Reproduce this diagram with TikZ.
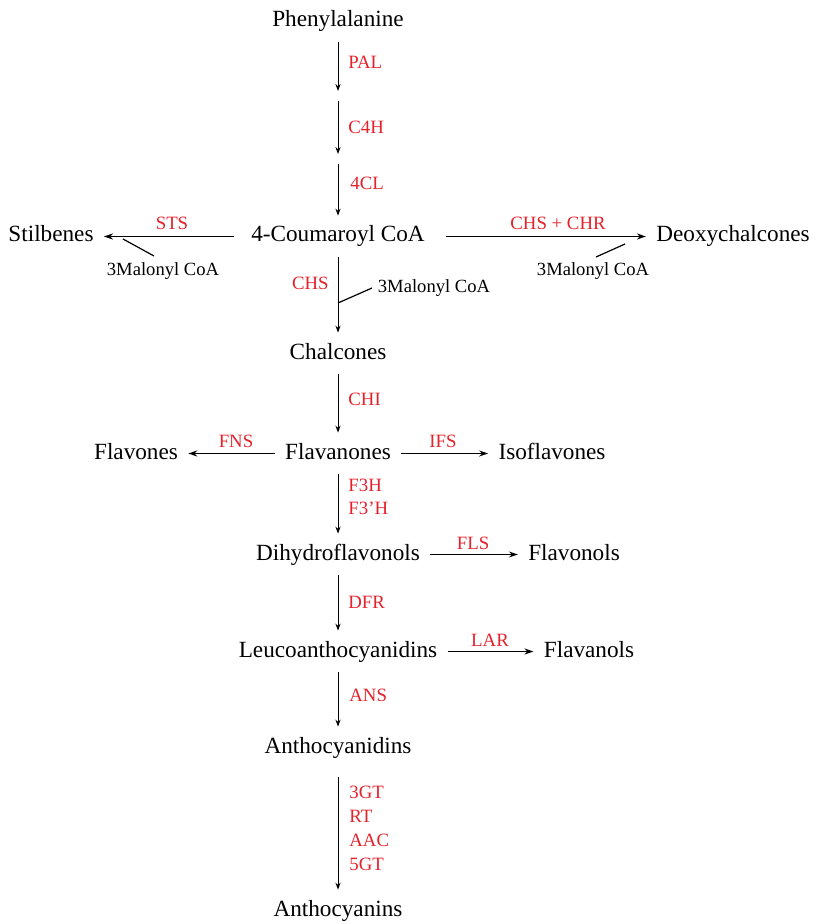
\documentclass[tikz,border=0pt]{standalone}
\usepackage{fontspec}
\setmainfont{Liberation Serif}
\usepackage{xcolor}
\usetikzlibrary{arrows.meta}

\definecolor{enzred}{RGB}{228,34,44}

\tikzset{
  compound/.style={font=\fontsize{11.6}{13}\selectfont, text height=8pt, text depth=2.5pt,
    inner xsep=5pt, inner ysep=5pt, anchor=base},
  enzyme/.style={font=\fontsize{9.4}{11.7}\selectfont, text=enzred, inner sep=0pt, align=left},
  cosub/.style={font=\fontsize{9.3}{11}\selectfont, inner sep=0pt},
  vflow/.style={line width=0.5pt, -{Stealth[length=3.5pt,width=2.6pt]}},
  hflow/.style={line width=0.8pt, -{Stealth[length=4.5pt,width=3pt]}},
  branch/.style={line width=0.6pt},
}

\begin{document}
\begin{tikzpicture}[x=0.5pt, y=-0.5pt]
  \useasboundingbox (0,0) rectangle (816,924);

  % Main chain
  \node[compound] (phe) at (338,27) {Phenylalanine};
  \coordinate (k1) at (338,96);
  \coordinate (k2) at (338,159);
  \node[compound] (cou) at (338,242) {4-Coumaroyl CoA};
  \node[compound] (chal) at (338,359) {Chalcones};
  \node[compound] (flavan) at (338,459) {Flavanones};
  \node[compound] (dihyd) at (338,560) {Dihydroflavonols};
  \node[compound] (leuco) at (338,657) {Leucoanthocyanidins};
  \node[compound] (antc) at (338,753) {Anthocyanidins};
  \node[compound] (antn) at (338,916) {Anthocyanins};

  % Side products
  \node[compound] (stil) at (51,242) {Stilbenes};
  \node[compound] (deoxy) at (733,242) {Deoxychalcones};
  \node[compound] (flavo) at (136,459) {Flavones};
  \node[compound] (isofl) at (552,459) {Isoflavones};
  \node[compound] (flvnl) at (574,560) {Flavonols};
  \node[compound] (flvan) at (589,657) {Flavanols};

  % Vertical steps
  \draw[vflow, shorten >=2.5pt] (phe) -- (k1);
  \draw[vflow, shorten <=2.5pt, shorten >=2.5pt] (k1) -- (k2);
  \draw[vflow, shorten <=2.5pt] (k2) -- (cou);
  \draw[vflow] (cou) -- (chal);
  \draw[vflow] (chal) -- (flavan);
  \draw[vflow] (flavan) -- (dihyd);
  \draw[vflow] (dihyd) -- (leuco);
  \draw[vflow] (leuco) -- (antc);
  \draw[vflow, shorten <=4.5pt] (antc) -- (antn);

  % Side steps
  \draw[hflow, shorten <=3.5pt] (cou) -- (stil);
  \draw[hflow, shorten <=5.5pt] (cou) -- (deoxy);
  \draw[hflow] (flavan) -- (flavo);
  \draw[hflow] (flavan) -- (isofl);
  \draw[hflow] (dihyd) -- (flvnl);
  \draw[hflow] (leuco) -- (flvan);

  % Malonyl CoA inputs
  \node[cosub] (mal1) at (163,271) {3Malonyl CoA};
  \node[cosub] (mal2) at (434,288) {3Malonyl CoA};
  \node[cosub] (mal3) at (593,271) {3Malonyl CoA};
  \coordinate (m1a) at (123,239);
  \coordinate (m1b) at (154,256);
  \coordinate (m2a) at (338,303);
  \coordinate (m2b) at (372,288);
  \coordinate (m3a) at (596,257);
  \coordinate (m3b) at (625,244);
  \draw[branch] (m1a) -- (m1b);
  \draw[branch] (m2a) -- (m2b);
  \draw[branch] (m3a) -- (m3b);

  % Enzymes
  \node[enzyme, anchor=west] (pal) at (348,62) {PAL};
  \node[enzyme, anchor=west] (c4h) at (348,127) {C4H};
  \node[enzyme, anchor=west] (fourcl) at (350,183) {4CL};
  \node[enzyme] (sts) at (172,223) {STS};
  \node[enzyme] (chschr) at (558,223) {CHS + CHR};
  \node[enzyme, anchor=east] (chs) at (329,283) {CHS};
  \node[enzyme, anchor=west] (chi) at (348,399) {CHI};
  \node[enzyme] (fns) at (236,441) {FNS};
  \node[enzyme] (ifs) at (443,441) {IFS};
  \node[enzyme, anchor=west] (f3h) at (348,497) {F3H\\F3’H};
  \node[enzyme] (fls) at (473,543) {FLS};
  \node[enzyme, anchor=west] (dfr) at (348,602) {DFR};
  \node[enzyme] (lar) at (490,640) {LAR};
  \node[enzyme, anchor=west] (ans) at (349,695) {ANS};
  \node[enzyme, anchor=west, font=\fontsize{9.4}{12}\selectfont] (gts) at (349,828) {3GT\\RT\\AAC\\5GT};
\end{tikzpicture}
\end{document}
